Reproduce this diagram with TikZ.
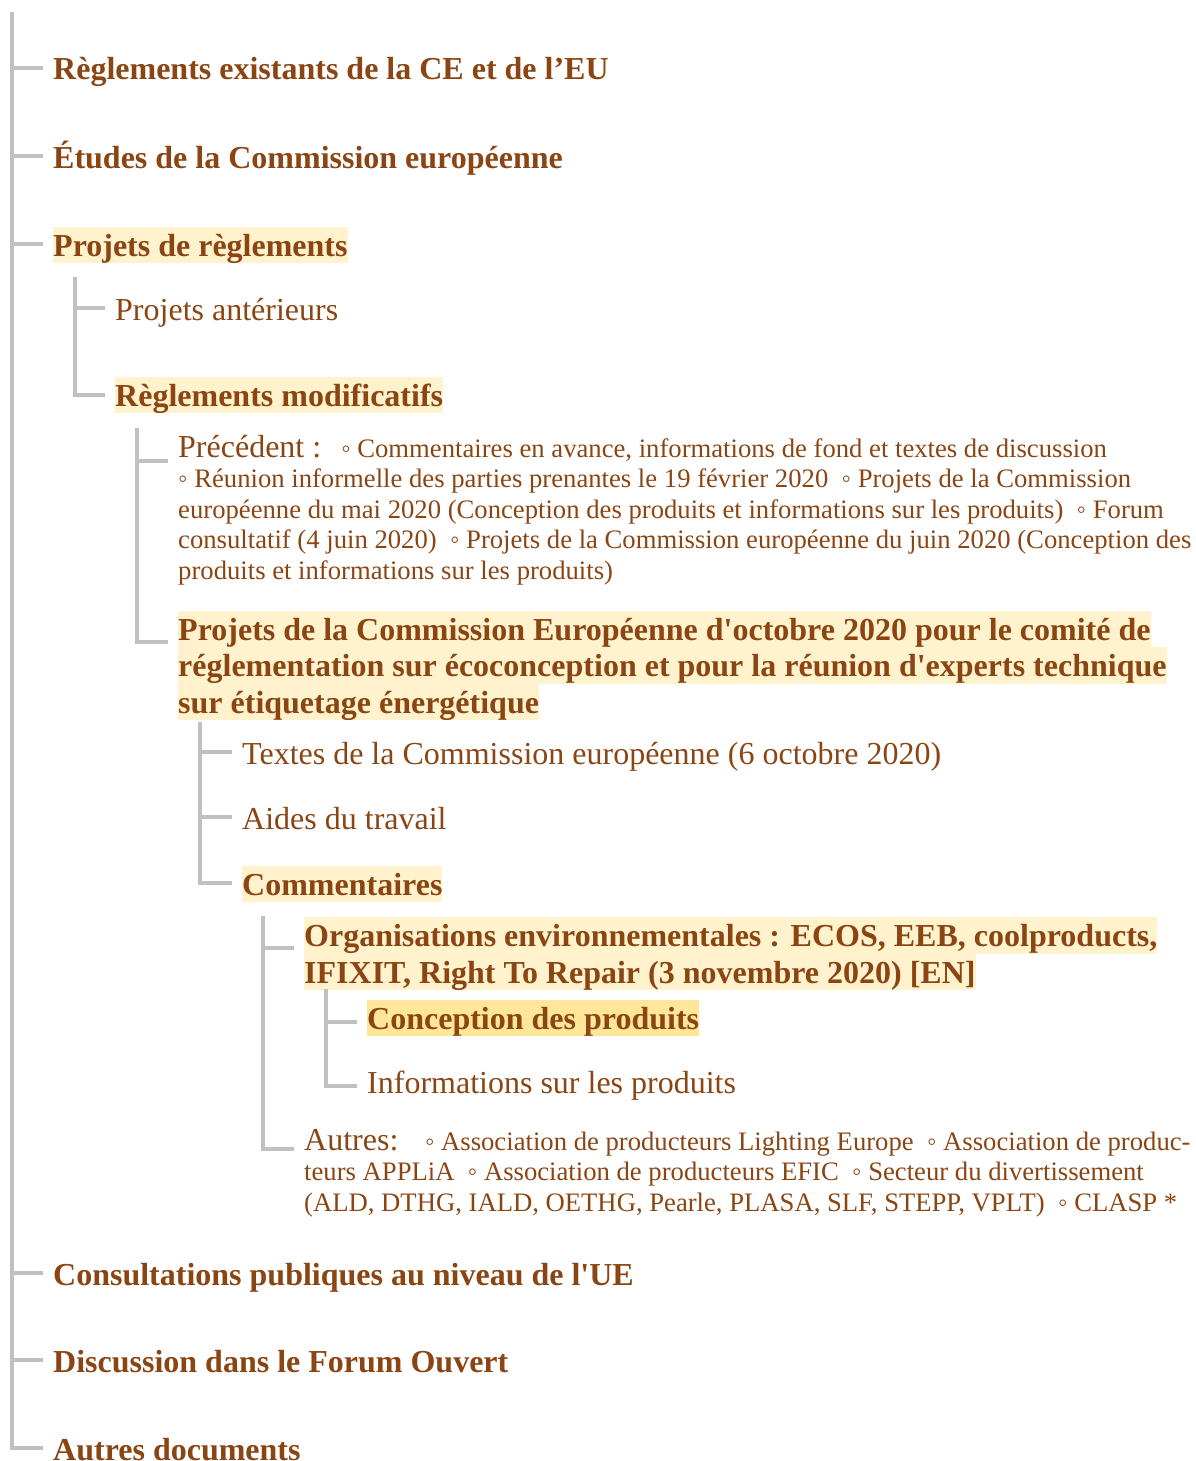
\documentclass[tikz,border=0pt]{standalone}
\usepackage{fontspec}
\setmainfont{Liberation Serif}[Ligatures=TeXOff]
\definecolor{txtbrown}{HTML}{8B4513}
\definecolor{hlight}{HTML}{FFF2CC}
\definecolor{hstrong}{HTML}{FFE699}
\definecolor{branchgray}{HTML}{C0C0C0}
\begin{document}
\begin{tikzpicture}[x=1pt,y=-1pt,
  every node/.style={inner sep=0pt,anchor=base west,text=txtbrown},
  big/.style={font=\fontsize{32}{36.5}\selectfont,text height=29.5pt,text depth=7pt},
  head/.style={big,font=\fontsize{32}{36.5}\selectfont\bfseries},
  small/.style={font=\fontsize{26.67}{30.5}\selectfont,align=left},
  hl/.style={fill=hlight},
  hlstrong/.style={fill=hstrong},
  branch/.style={draw=branchgray,line width=4pt,shorten >=10pt}]
\useasboundingbox (0,0) rectangle (1196,1461);

% level 0
\node[head] (reg) at (53,80) {Règlements existants de la CE et de l’EU};
\node[head] (etu) at (53,168) {Études de la Commission européenne};
\node[head,hl] (proj) at (53,256) {Projets de règlements};
\node[head] (cons) at (53,1285) {Consultations publiques au niveau de l'UE};
\node[head] (disc) at (53,1372) {Discussion dans le Forum Ouvert};
\node[head] (autdoc) at (53,1460) {Autres documents};

% level 1
\node[big] (ant) at (115,320) {Projets antérieurs};
\node[head,hl] (mod) at (115,406) {Règlements modificatifs};

% level 2 (base = last line)
\node[small] (prec) at (178,579) {{\fontsize{32}{30.5}\selectfont Précédent :}\ \ \ ◦ Commentaires en avance, informations de fond et textes de discussion\\
◦ Réunion informelle des parties prenantes le 19 février 2020\ \ ◦ Projets de la Commission\\
européenne du mai 2020 (Conception des produits et informations sur les produits)\ \ ◦ Forum\\
consultatif (4 juin 2020)\ \ ◦ Projets de la Commission européenne du juin 2020 (Conception des\\
produits et informations sur les produits)};
\node[head,hl] (oct1) at (178,640) {Projets de la Commission Européenne d'octobre 2020 pour le comité de};
\node[head,hl] (oct2) at (178,676.5) {réglementation sur écoconception et pour la réunion d'experts technique};
\node[head,hl] (oct3) at (178,713) {sur étiquetage énergétique};

% level 3
\node[big] (txt) at (242,764) {Textes de la Commission européenne (6 octobre 2020)};
\node[big] (aid) at (242,829) {Aides du travail};
\node[head,hl] (com) at (242,895) {Commentaires};

% level 4
\node[head,hl] (org1) at (304,946.5) {Organisations environnementales : ECOS, EEB, coolproducts,};
\node[head,hl] (org2) at (304,983) {IFIXIT, Right To Repair (3 novembre 2020) [EN]};
\node[small] (aut) at (304,1211) {{\fontsize{32}{30.5}\selectfont Autres:}\ \ \ \ ◦ Association de producteurs Lighting Europe\ \ ◦ Association de produc-\\
teurs APPLiA\ \ ◦ Association de producteurs EFIC\ \ ◦ Secteur du divertissement\\
(ALD, DTHG, IALD, OETHG, Pearle, PLASA, SLF, STEPP, VPLT)\ \ ◦ CLASP *};

% level 5
\node[head,hlstrong] (conc) at (367,1029) {Conception des produits};
\node[big] (inf) at (367,1093) {Informations sur les produits};

% branches
\coordinate (v0) at (12,12);
\coordinate (v1) at (74.5,277);
\coordinate (v2) at (136.5,428);
\coordinate (v3) at (200,722);
\coordinate (v4) at (263,916);
\coordinate (v5) at (326,989);

\draw[branch] (v0) |- ([yshift=12pt]reg.base west);
\draw[branch] (v0) |- ([yshift=12pt]etu.base west);
\draw[branch] (v0) |- ([yshift=12pt]proj.base west);
\draw[branch] (v0) |- ([yshift=12pt]cons.base west);
\draw[branch] (v0) |- ([yshift=12pt]disc.base west);
\draw[branch] (v0) |- ([yshift=12pt]autdoc.base west);

\draw[branch] (v1) |- ([yshift=12pt]ant.base west);
\draw[branch] (v1) |- ([yshift=11pt]mod.base west);

\draw[branch] (v2) |- ([yshift=118pt]prec.base west);
\draw[branch] (v2) |- ([yshift=-2pt]oct1.base west);

\draw[branch] (v3) |- ([yshift=12pt]txt.base west);
\draw[branch] (v3) |- ([yshift=12pt]aid.base west);
\draw[branch] (v3) |- ([yshift=12pt]com.base west);

\draw[branch] (v4) |- ([yshift=-1pt]org1.base west);
\draw[branch] (v4) |- ([yshift=62pt]aut.base west);

\draw[branch] (v5) |- ([yshift=7pt]conc.base west);
\draw[branch] (v5) |- ([yshift=7pt]inf.base west);
\end{tikzpicture}
\end{document}
